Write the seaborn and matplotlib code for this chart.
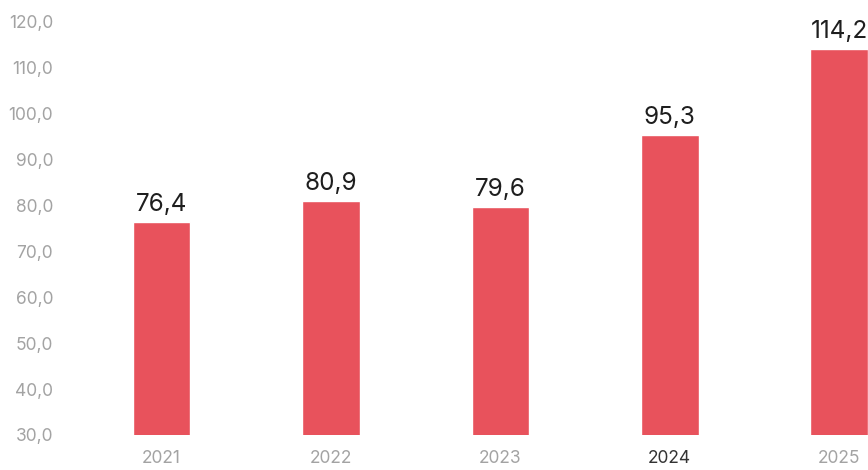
import matplotlib
matplotlib.use("Agg")
import matplotlib.pyplot as plt
import seaborn as sns
import pandas as pd

# --- data ---
years = ["2021", "2022", "2023", "2024", "2025"]
values = [76.4, 80.9, 79.6, 95.3, 114.2]
y_ticks = [30, 40, 50, 60, 70, 80, 90, 100, 110, 120]
highlight_year = "2024"

BAR_COLOR = "#E8525C"

sns.set_theme(style="white")
plt.rcParams["font.family"] = ["Inter", "DejaVu Sans"]

df = pd.DataFrame({"year": years, "value": values})

fig = plt.figure(figsize=(8.68, 4.70), dpi=100)
ax = fig.add_axes([60 / 868, 35 / 470, 808 / 868, 413 / 470])

sns.barplot(data=df, x="year", y="value", color=BAR_COLOR, width=0.34,
            saturation=1, ax=ax)

ax.set_ylim(30, 120)
ax.set_xlim(-0.6, 4.17)
ax.set_yticks(y_ticks)
ax.set_yticklabels([f"{t:.1f}".replace(".", ",") for t in y_ticks])
ax.set_xlabel("")
ax.set_ylabel("")
sns.despine(ax=ax, left=True, bottom=True)
ax.tick_params(axis="both", length=0, labelsize=12.5, labelcolor="#a3a3a3")
ax.tick_params(axis="y", pad=5)
ax.tick_params(axis="x", pad=11)

for lbl in ax.get_xticklabels():
    if lbl.get_text() == highlight_year:
        lbl.set_color("#333333")

# value labels above bars
for i, v in enumerate(values):
    ax.text(i, v + 1.3, f"{v:.1f}".replace(".", ","), ha="center", va="bottom",
            fontsize=17.5, color="#1e1e1e", clip_on=False)

fig.savefig("out.png", dpi=100)
